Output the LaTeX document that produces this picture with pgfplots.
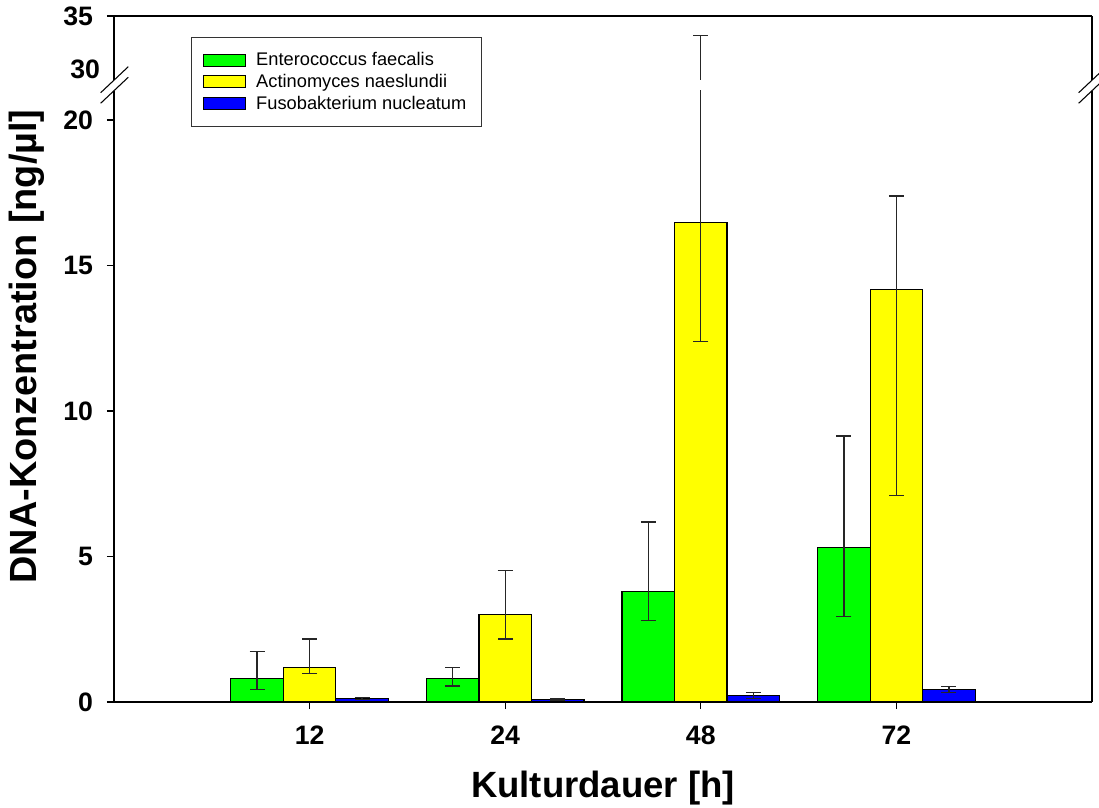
\documentclass[border=0pt]{standalone}
\usepackage{fontspec}
\setmainfont{Liberation Sans}
\usepackage{pgfplots}
\usepackage{pgfplotstable}
\pgfplotsset{compat=1.18}

\definecolor{barGreen}{RGB}{0,255,0}
\definecolor{barYellow}{RGB}{255,255,0}
\definecolor{barBlue}{RGB}{0,0,255}

% mean, upper error, lower error (ng/ul) per culture time (1=12h, 2=24h, 3=48h, 4=72h)
\pgfplotstableread{
x y    ep    em
1 0.81 0.92  0.37
2 0.81 0.37  0.26
3 3.81 2.38  1.00
4 5.31 3.83  2.38
}\efaecalis
\pgfplotstableread{
x y     ep     em
1 1.18  0.99   0.21
2 3.01  1.52   0.84
3 16.48 16.66  4.09
4 14.19 3.20   7.09
}\anaeslundii
\pgfplotstableread{
x y    ep    em
1 0.12 0.04  0.03
2 0.09 0.02  0.02
3 0.22 0.10  0.09
4 0.43 0.10  0.10
}\fnucleatum

\pgfplotsset{
  swatch/.style={legend image code/.code={%
      \draw[##1,line width=0.75pt] (0pt,-4.5pt) rectangle (31.5pt,4.5pt);
      \path (36.75pt,0pt);}},
  brokenaxis/.style={
    scale only axis,
    width=733.5pt,
    xmin=0, xmax=5,
    ybar=0pt, bar width=39.4pt,
    axis y line*=box,
    ytick pos=left,
    tick align=outside,
    major tick length=5.25pt,
    every tick/.style={black,line width=0.9pt},
    axis line style={line width=1.1pt},
    /pgf/number format/assume math mode=true,
    xticklabel style={font=\fontsize{20}{22}\selectfont\bfseries, yshift=-9.5pt},
    yticklabel style={font=\fontsize{20}{22}\selectfont\bfseries, xshift=-7pt},
    error bars/y dir=both,
    error bars/y explicit,
    error bars/error bar style={line width=1pt,black!85},
    error bars/error mark options={rotate=90,mark size=5.6pt,line width=1pt,black!85},
  },
}

\begin{document}
\begin{tikzpicture}
\useasboundingbox (0,0) rectangle (824.25pt,605.25pt);

% lower part of the broken axis, 0 to 21
\begin{axis}[
  brokenaxis,
  at={(85.5pt,78.75pt)}, anchor=south west,
  height=458.25pt,
  ymin=0, ymax=21,
  ytick={0,5,10,15,20},
  axis x line*=bottom,
  xtick={1,2,3,4},
  xticklabels={12,24,48,72},
  xlabel={Kulturdauer [h]},
  ylabel={DNA-Konzentration [ng/µl]},
  xlabel style={font=\fontsize{27.4}{30}\selectfont\bfseries,
    at={(axis description cs:0.5,-0.1566)}, anchor=base},
  ylabel style={font=\fontsize{28.4}{31}\selectfont\bfseries,
    at={(axis description cs:-0.089,0.582)}, anchor=center},
  legend style={at={(axis description cs:0.0787,1.0884)}, anchor=north west,
    draw=black!80, line width=0.75pt,
    font=\fontsize{13.7}{15}\selectfont,
    inner xsep=9pt, inner ysep=9.2pt, row sep=1pt},
  legend cell align=left,
]
\addplot[fill=barGreen, draw=black, line width=0.9pt, swatch]
  table[x=x, y=y, y error plus=ep, y error minus=em] {\efaecalis};
\addplot[fill=barYellow, draw=black, line width=0.9pt, swatch]
  table[x=x, y=y, y error plus=ep, y error minus=em] {\anaeslundii};
\addplot[fill=barBlue, draw=black, line width=0.9pt, swatch]
  table[x=x, y=y, y error plus=ep, y error minus=em] {\fnucleatum};
\legend{Enterococcus faecalis, Actinomyces naeslundii, Fusobakterium nucleatum}
\end{axis}

% upper part of the broken axis, 29 to 35: only the error bars reach it
\begin{axis}[
  brokenaxis,
  at={(85.5pt,545.25pt)}, anchor=south west,
  height=48pt,
  ymin=29, ymax=35,
  ytick={35},
  extra y ticks={30},
  extra y tick style={major tick length=0pt},
  axis x line*=top,
  xtick=\empty,
]
\addplot[draw=none, fill=none]
  table[x=x, y=y, y error plus=ep, y error minus=em] {\efaecalis};
\addplot[draw=none, fill=none]
  table[x=x, y=y, y error plus=ep, y error minus=em] {\anaeslundii};
\addplot[draw=none, fill=none]
  table[x=x, y=y, y error plus=ep, y error minus=em] {\fnucleatum};
\end{axis}

% break marks on both y axes
\begin{scope}[line width=0.8pt]
  \draw (75.5pt,535.7pt) -- (96.2pt,555.2pt);
  \draw (75.5pt,527.8pt) -- (96.2pt,547.3pt);
  \draw (809pt,535.7pt) -- (829.7pt,555.2pt);
  \draw (809pt,527.8pt) -- (829.7pt,547.3pt);
\end{scope}
\end{tikzpicture}
\end{document}
